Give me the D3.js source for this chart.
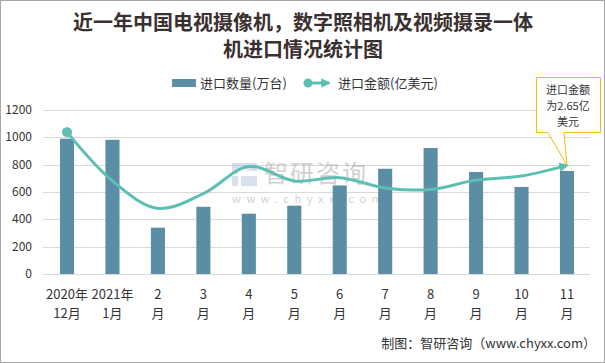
<!DOCTYPE html>
<html>
<head>
<meta charset="utf-8">
<script src="https://cdn.jsdelivr.net/npm/d3@7"></script>
<style>
  html, body { margin: 0; padding: 0; background: #fff; }
  svg { display: block; font-family: "Noto Sans CJK SC", "Noto Sans", sans-serif; }
</style>
</head>
<body>
<div id="chart"></div>
<script>
// --- data ---
const categories = ["2020年12月", "2021年1月", "2月", "3月", "4月", "5月", "6月", "7月", "8月", "9月", "10月", "11月"];
const tickLabels = [["2020年", "12月"], ["2021年", "1月"], ["2", "月"], ["3", "月"], ["4", "月"], ["5", "月"],
  ["6", "月"], ["7", "月"], ["8", "月"], ["9", "月"], ["10", "月"], ["11", "月"]];
const quantity = [990, 982, 339, 492, 441, 500, 648, 770, 922, 746, 637, 754];   // 进口数量(万台)
const amount = [3.46, 2.27, 1.60, 1.96, 2.62, 2.27, 2.35, 2.10, 2.06, 2.29, 2.39, 2.65]; // 进口金额(亿美元)
const yTicks = [0, 200, 400, 600, 800, 1000, 1200];
const calloutLines = ["进口金额", "为2.65亿", "美元"];

const width = 605, height = 363;
const barColor = "#5b8ea5", lineColor = "#5dbfb3", textColor = "#333";

const svg = d3.select("#chart").append("svg")
  .attr("width", width)
  .attr("height", height);

// outer frame
svg.append("rect")
  .attr("x", 0.5).attr("y", 0.5)
  .attr("width", width - 1).attr("height", height - 1)
  .attr("fill", "#fff").attr("stroke", "#a6a6a6");

// --- title ---
const title = svg.append("text")
  .attr("text-anchor", "middle")
  .attr("font-size", 20)
  .attr("font-weight", "bold")
  .attr("fill", "#3b3030");
title.append("tspan").attr("x", 303).attr("y", 30).text("近一年中国电视摄像机，数字照相机及视频摄录一体");
title.append("tspan").attr("x", 303).attr("y", 57).text("机进口情况统计图");

// --- scales ---
const x = d3.scaleBand()
  .domain(categories)
  .range([44.3, 589.7])
  .paddingInner(0.69)
  .paddingOuter(0.345);
const y = d3.scaleLinear().domain([0, 1200]).range([274, 110]);
const y2 = d3.scaleLinear().domain([0, 4]).range([274, 110]);

// --- grid + y labels ---
svg.append("g")
  .selectAll("line")
  .data(yTicks)
  .join("line")
  .attr("x1", 43).attr("x2", 590)
  .attr("y1", d => Math.round(y(d)) + 0.5)
  .attr("y2", d => Math.round(y(d)) + 0.5)
  .attr("stroke", "#d9d9d9");

svg.append("g")
  .selectAll("text")
  .data(yTicks)
  .join("text")
  .attr("x", 32)
  .attr("y", d => y(d) + 4)
  .attr("text-anchor", "end")
  .attr("font-size", 12)
  .attr("fill", textColor)
  .text(d => d);

// --- watermark ---
const wm = svg.append("g").attr("opacity", 0.45);
wm.append("path")
  .attr("d", "M232,163h22v6h-16v5h-6z M232,176h6v10h-6z M241,176h16v10h-16z M247,163h10v8h-10z")
  .attr("fill", "#a9bcd8");
wm.append("text")
  .attr("x", 264).attr("y", 182)
  .attr("font-size", 24)
  .attr("letter-spacing", 2)
  .attr("fill", "#9a9a9a")
  .text("智研咨询");
wm.append("text")
  .attr("x", 232).attr("y", 203)
  .attr("font-size", 11)
  .attr("letter-spacing", 5.6)
  .attr("fill", "#9a9a9a")
  .text("www.chyxx.com");

// --- bars ---
svg.append("g")
  .selectAll("rect")
  .data(quantity)
  .join("rect")
  .attr("x", (d, i) => x(categories[i]))
  .attr("y", d => y(d))
  .attr("width", x.bandwidth())
  .attr("height", d => y(0) - y(d))
  .attr("fill", barColor);

// --- line ---
const defs = svg.append("defs");
defs.append("marker")
  .attr("id", "arrow")
  .attr("viewBox", "0 0 10 10")
  .attr("refX", 8).attr("refY", 5)
  .attr("markerWidth", 3.2).attr("markerHeight", 3.2)
  .attr("markerUnits", "strokeWidth")
  .attr("orient", "auto")
  .append("path")
  .attr("d", "M0,0L10,5L0,10z")
  .attr("fill", lineColor);

const line = d3.line()
  .x((d, i) => x(categories[i]) + x.bandwidth() / 2)
  .y(d => y2(d))
  .curve(d3.curveCatmullRom.alpha(0.5));

svg.append("path")
  .datum(amount)
  .attr("d", line)
  .attr("fill", "none")
  .attr("stroke", lineColor)
  .attr("stroke-width", 3)
  .attr("marker-end", "url(#arrow)");

svg.append("circle")
  .attr("cx", x(categories[0]) + x.bandwidth() / 2)
  .attr("cy", y2(amount[0]))
  .attr("r", 5)
  .attr("fill", lineColor);

// --- x labels ---
const xl = svg.append("g")
  .selectAll("text")
  .data(tickLabels)
  .join("text")
  .attr("text-anchor", "middle")
  .attr("font-size", 13)
  .attr("fill", textColor);
xl.each(function (d, i) {
  const cx = x(categories[i]) + x.bandwidth() / 2;
  d3.select(this).append("tspan").attr("x", cx).attr("y", 299).text(d[0]);
  d3.select(this).append("tspan").attr("x", cx).attr("y", 318).text(d[1]);
});

// --- legend ---
const legend = svg.append("g").attr("font-size", 13).attr("fill", textColor);
legend.append("rect")
  .attr("x", 172).attr("y", 79).attr("width", 24).attr("height", 8)
  .attr("fill", barColor);
legend.append("text").attr("x", 200).attr("y", 88).text("进口数量(万台)");
legend.append("line")
  .attr("x1", 308).attr("x2", 329).attr("y1", 83).attr("y2", 83)
  .attr("stroke", lineColor).attr("stroke-width", 3)
  .attr("marker-end", "url(#arrow)");
legend.append("circle").attr("cx", 308).attr("cy", 83).attr("r", 4.5).attr("fill", lineColor);
legend.append("text").attr("x", 338).attr("y", 88).text("进口金额(亿美元)");

// --- callout for last point ---
const lastX = x(categories[categories.length - 1]) + x.bandwidth() / 2;
const lastY = y2(amount[amount.length - 1]);
const callout = svg.append("g");
callout.append("path")
  .attr("d", `M536.5,77.5H600.5V132.5H564L${lastX},${lastY}L548,132.5H536.5Z`)
  .attr("fill", "#fff")
  .attr("stroke", "#f5b919")
  .attr("stroke-width", 1);
const ct = callout.append("text")
  .attr("text-anchor", "middle")
  .attr("font-size", 11)
  .attr("fill", textColor);
calloutLines.forEach((t, i) => {
  ct.append("tspan").attr("x", 568).attr("y", 94 + i * 16).text(t);
});

// --- source ---
svg.append("text")
  .attr("x", 596).attr("y", 348)
  .attr("text-anchor", "end")
  .attr("font-size", 13)
  .attr("fill", textColor)
  .text("制图：智研咨询（www.chyxx.com）");
</script>
</body>
</html>
